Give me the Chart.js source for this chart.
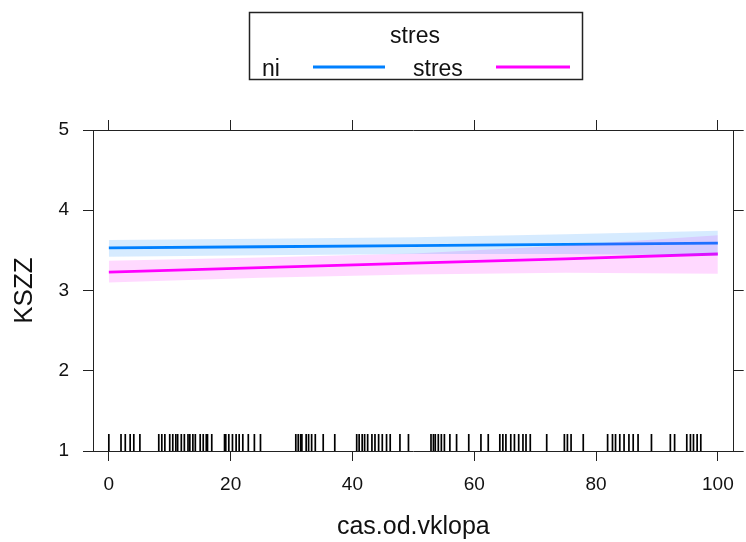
<!DOCTYPE html>
<html>
<head>
<meta charset="utf-8">
<script src="https://cdn.jsdelivr.net/npm/chart.js@4.4.0/dist/chart.umd.min.js"></script>
<style>
  html, body { margin: 0; padding: 0; background: #fff; }
</style>
</head>
<body>
<canvas id="grafico" width="746" height="542"></canvas>
<script>
// values (effect of cas.od.vklopa on KSZZ by stres)
const xVals = [0, 25, 50, 75, 100];
const niFit = [3.53, 3.545, 3.56, 3.575, 3.59];
const niUpper = [3.63, 3.645, 3.665, 3.70, 3.745];
const niLower = [3.42, 3.44, 3.455, 3.455, 3.435];
const stresFit = [3.23, 3.285, 3.34, 3.395, 3.455];
const stresUpper = [3.37, 3.41, 3.46, 3.56, 3.69];
const stresLower = [3.10, 3.16, 3.20, 3.22, 3.21];

// rug of observed cas.od.vklopa values
const rugVals = [0, 2, 2.7, 3.5, 4.1, 5.1, 8.2, 8.7, 9.2, 10, 10.5, 11, 11.3, 11.9, 12.4,
  13, 13.3, 13.8, 14.2, 15, 15.5, 16, 16.2, 16.9, 19, 19.2, 19.7, 20.3, 20.9, 21.4, 22,
  22.9, 23.9, 24.9, 30.7, 31.1, 31.5, 31.7, 32.4, 32.8, 33.3, 33.9, 35.2, 37.1, 40.7,
  41.1, 41.6, 42, 42.5, 43.2, 43.7, 44.3, 44.9, 45.6, 46.2, 47.8, 49.2, 52.9, 53.3,
  53.6, 54.1, 54.6, 55.1, 56, 57.1, 59.1, 61.1, 62.3, 64.2, 64.7, 65.2, 66, 66.6, 67.3,
  68, 68.5, 69.2, 71.9, 74.8, 75.3, 75.9, 77.9, 81.9, 82.7, 83.2, 83.9, 84.6, 85.4,
  86.1, 86.9, 89.1, 92.2, 92.9, 94.9, 95.5, 96, 96.6, 97.2];
const rugLevel = 1.106;

const xTicks = [0, 20, 40, 60, 80, 100];
const yTicks = [1, 2, 3, 4, 5];
const groupTitle = "stres";
const groups = ["ni", "stres"];
const groupColors = ["#0080ff", "#ff00ff"];

const pts = (ys) => xVals.map((x, i) => ({x: x, y: ys[i]}));

Chart.defaults.font.family = "'Liberation Sans', Arial, sans-serif";
Chart.defaults.color = "#111";

// lattice style key above the panel
const kljuc = {
  id: "kljuc",
  afterDraw(chart) {
    const ctx = chart.ctx;
    ctx.save();
    ctx.strokeStyle = "#222";
    ctx.lineWidth = 1.5;
    ctx.strokeRect(249.5, 12.5, 333, 67);
    ctx.fillStyle = "#111";
    ctx.font = "23px 'Liberation Sans', Arial, sans-serif";
    ctx.textBaseline = "middle";
    ctx.textAlign = "center";
    ctx.fillText(groupTitle, 415, 37);
    ctx.textAlign = "left";
    ctx.fillText(groups[0], 262, 70);
    ctx.fillText(groups[1], 413, 70);
    ctx.lineWidth = 3;
    ctx.strokeStyle = groupColors[0];
    ctx.beginPath(); ctx.moveTo(313, 67); ctx.lineTo(385, 67); ctx.stroke();
    ctx.strokeStyle = groupColors[1];
    ctx.beginPath(); ctx.moveTo(496, 67); ctx.lineTo(570, 67); ctx.stroke();
    ctx.restore();
  }
};

const band = (data, fill, color) => ({
  data: pts(data), fill: fill, backgroundColor: color, borderWidth: 0,
  pointRadius: 0, showLine: true, borderColor: "rgba(0,0,0,0)"
});

const osX = (extra) => Object.assign({
  type: "linear", min: -2.6, max: 102.6,
  afterBuildTicks: (s) => { s.ticks = xTicks.map(v => ({value: v})); },
  grid: {drawOnChartArea: false, drawTicks: true, tickLength: 10, color: "#222", lineWidth: 1},
  border: {display: true, color: "#222", width: 1}
}, extra);

const osY = (extra) => Object.assign({
  type: "linear", min: 1, max: 5,
  afterBuildTicks: (s) => { s.ticks = yTicks.map(v => ({value: v})); },
  grid: {drawOnChartArea: false, drawTicks: true, tickLength: 10, color: "#222", lineWidth: 1},
  border: {display: true, color: "#222", width: 1}
}, extra);

new Chart(document.getElementById("grafico"), {
  type: "scatter",
  data: {
    datasets: [
      band(niUpper, "+1", "rgba(0,128,255,0.16)"),
      band(niLower, false, "rgba(0,128,255,0.16)"),
      band(stresUpper, "+1", "rgba(255,0,255,0.15)"),
      band(stresLower, false, "rgba(255,0,255,0.15)"),
      {label: groups[0], data: pts(niFit), showLine: true, borderColor: groupColors[0],
       borderWidth: 2.8, pointRadius: 0, fill: false},
      {label: groups[1], data: pts(stresFit), showLine: true, borderColor: groupColors[1],
       borderWidth: 2.8, pointRadius: 0, fill: false},
      {label: "rug", data: rugVals.map(v => ({x: v, y: rugLevel})), pointStyle: "line",
       rotation: 90, pointRadius: 8.5, borderWidth: 1.7, borderColor: "#000",
       backgroundColor: "#000", showLine: false}
    ]
  },
  options: {
    responsive: false,
    animation: false,
    devicePixelRatio: 1,
    layout: {padding: 0},
    plugins: {legend: {display: false}, tooltip: {enabled: false}},
    scales: {
      x: osX({position: "bottom",
        ticks: {font: {size: 19}, padding: 12, color: "#111"},
        title: {display: true, text: "cas.od.vklopa", font: {size: 25}, padding: {top: 0, bottom: 0}, color: "#111"},
        afterFit: (s) => { s.height = 91; }}),
      x2: osX({position: "top", ticks: {display: false},
        afterFit: (s) => { s.height = 130; }}),
      y: osY({position: "left",
        ticks: {font: {size: 19}, padding: 14, color: "#111"},
        title: {display: true, text: "KSZZ", font: {size: 26}, padding: {top: 9, bottom: 0}, color: "#111"},
        afterFit: (s) => { s.width = 93; }}),
      y2: osY({position: "right", ticks: {display: false},
        afterFit: (s) => { s.width = 9; }})
    }
  },
  plugins: [kljuc]
});
</script>
</body>
</html>
